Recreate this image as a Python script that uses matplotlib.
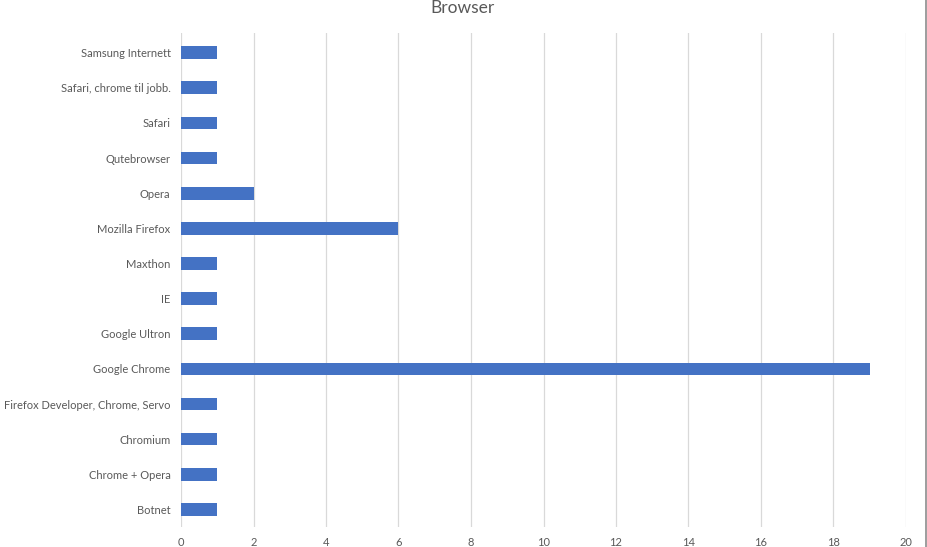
import matplotlib
matplotlib.use("Agg")
import matplotlib.pyplot as plt
from matplotlib.lines import Line2D
from matplotlib.patches import Circle

categories = ["Botnet", "Chrome + Opera", "Chromium", "Firefox Developer, Chrome, Servo",
              "Google Chrome", "Google Ultron", "IE", "Maxthon", "Mozilla Firefox",
              "Opera", "Qutebrowser", "Safari", "Safari, chrome til jobb.", "Samsung Internett"]
values = [1, 1, 1, 1, 19, 1, 1, 1, 6, 2, 1, 1, 1, 1]
xticks = list(range(0, 21, 2))

plt.rcParams['font.family'] = ['Lato', 'DejaVu Sans']
W, H = 927, 547
fig = plt.figure(figsize=(W / 100, H / 100), dpi=100)
ax = fig.add_axes([181 / W, 1 - 527 / H, (906 - 181) / W, (527 - 33) / H])

ax.barh(range(len(categories)), values, height=0.36, color="#4472C4", zorder=3)
ax.set_xlim(0, 20)
ax.set_ylim(-0.5, len(categories) - 0.44)
ax.set_xticks(xticks)
ax.set_yticks(range(len(categories)))
ax.set_yticklabels(categories)
ax.tick_params(axis='both', length=0, colors="#595959", labelsize=8)
ax.tick_params(axis='y', pad=7.5)
ax.tick_params(axis='x', pad=7)
ax.grid(axis='x', color="#D9D9D9", linewidth=0.9, zorder=0)
for s in ax.spines.values():
    s.set_visible(False)

fig.text(462 / W, 1 - 8 / H, "Browser", ha='center', va='center', fontsize=12.5, color="#595959")

fig.add_artist(Line2D([925.5 / W, 925.5 / W], [0, 1], color="#8C8C8C", linewidth=1.2))

fig.savefig("out.png", dpi=100)
